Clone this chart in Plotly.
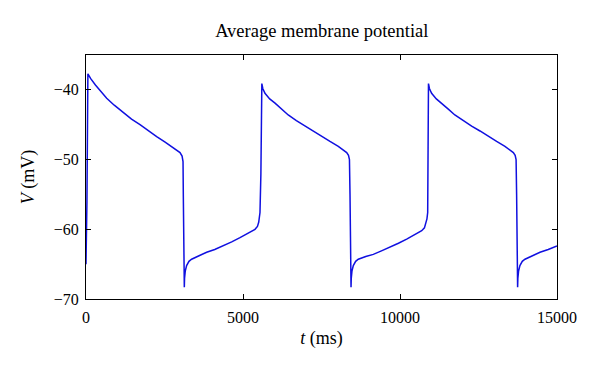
import plotly.graph_objects as go

# Time (ms) and average membrane potential (mV)
t_ms = [
    # cycle 1
    0, 30, 60, 150, 300, 450, 659, 900, 1189, 1450, 1720, 1990, 2251, 2520, 2781, 2900, 2994,
    3060, 3090, 3099,
    3131, 3139, 3161, 3204, 3279, 3363, 3600, 3843, 4100, 4373, 4640, 4904, 5150, 5382,
    5460, 5500, 5541, 5570,
    # cycle 2
    5600, 5630, 5700, 5850, 6020, 6240, 6440, 6700, 6975, 7240, 7506, 7770, 8035, 8200, 8302,
    8360, 8390, 8408,
    8440, 8448, 8470, 8513, 8588, 8672, 8910, 9150, 9410, 9682, 9950, 10213, 10460, 10691,
    10778, 10815, 10858, 10882, 10895,
    # cycle 3
    10907, 10937, 11007, 11157, 11327, 11547, 11747, 12007, 12282, 12547, 12813, 13077, 13342,
    13507, 13609, 13667, 13697, 13714,
    13746, 13754, 13776, 13819, 13894, 13981, 14220, 14459, 14720, 15000,
]
v_mV = [
    # cycle 1
    -65.0, -56.0, -37.7, -38.4, -39.3, -40.1, -41.2, -42.2, -43.3, -44.2, -45.0, -45.9, -46.7, -47.5, -48.3, -48.7, -49.0,
    -49.5, -50.3, -55.0,
    -68.3, -67.0, -66.0, -65.2, -64.6, -64.3, -63.8, -63.3, -62.9, -62.4, -61.8, -61.2, -60.6, -60.0,
    -59.6, -59.0, -57.6, -52.0,
    # cycle 2
    -39.1, -39.8, -40.5, -41.3, -41.9, -42.8, -43.6, -44.4, -45.2, -45.9, -46.7, -47.4, -48.1, -48.6, -49.0,
    -49.4, -50.0, -55.0,
    -68.3, -67.0, -66.0, -65.2, -64.6, -64.3, -63.9, -63.6, -63.1, -62.6, -62.0, -61.4, -60.8, -60.2,
    -59.8, -59.3, -58.5, -57.6, -52.0,
    # cycle 3
    -39.1, -39.8, -40.5, -41.3, -41.9, -42.8, -43.6, -44.4, -45.2, -45.9, -46.7, -47.4, -48.1,
    -48.6, -49.0, -49.4, -50.0, -55.0,
    -68.3, -67.0, -66.0, -65.2, -64.6, -64.3, -63.8, -63.3, -62.9, -62.4,
]

title_text = "Average membrane potential"
x_title = "<i>t</i> (ms)"
y_title = "<i>V</i> (mV)"
x_ticks = [0, 5000, 10000, 15000]
x_ticktext = ["0", "5000", "10000", "15000"]
y_ticks = [-70, -60, -50, -40]

FONT = "Liberation Serif, Times New Roman, serif"

fig = go.Figure(
    go.Scatter(x=t_ms, y=v_mV, mode="lines",
               line=dict(color="#1010e0", width=1.5),
               hoverinfo="skip")
)

axis_common = dict(
    showline=True, linecolor="black", linewidth=1, mirror="ticks",
    ticks="inside", ticklen=5, tickcolor="black", tickwidth=1,
    showgrid=False, zeroline=False, automargin=False,
    tickfont=dict(family=FONT, size=16, color="black"),
)

# The page body adds an 8px offset, margins compensate for it
fig.update_layout(
    width=600, height=376,
    margin=dict(l=78, r=51, t=47, b=85),
    paper_bgcolor="white", plot_bgcolor="white",
    showlegend=False,
    title=dict(text=title_text, x=0.523, xanchor="center", y=0.94, yanchor="middle",
               font=dict(family=FONT, size=18.5, color="black")),
    xaxis=dict(range=[0, 15000], tickvals=x_ticks, ticktext=x_ticktext,
               ticklabelstandoff=4,
               title=dict(text=x_title, font=dict(family=FONT, size=18, color="black"), standoff=6),
               **axis_common),
    yaxis=dict(range=[-70, -35], tickvals=y_ticks, ticklabelstandoff=3,
               title=dict(text=y_title, font=dict(family=FONT, size=18, color="black"), standoff=14),
               **axis_common),
)

fig.write_html("out.html")
